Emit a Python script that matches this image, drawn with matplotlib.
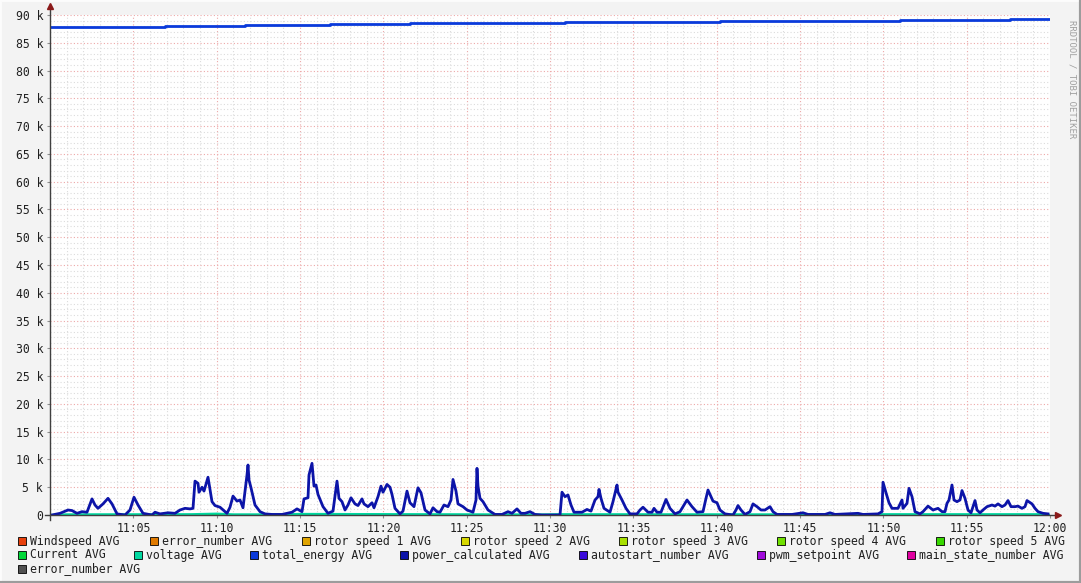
import matplotlib
matplotlib.use("Agg")
import matplotlib.pyplot as plt
from matplotlib.patches import Rectangle
from matplotlib.lines import Line2D

# minutes after 11:00 and power_calculated AVG (k)
power_t = [0.0, 0.12, 0.6, 1.08, 1.32, 1.62, 1.92, 2.22, 2.52, 2.7, 2.88, 3.18, 3.48, 3.72, 4.02,
           4.5, 4.8, 5.04, 5.28, 5.58, 6.12, 6.3, 6.6, 7.08, 7.5, 7.8, 8.1, 8.4, 8.58, 8.7,
           8.88, 8.94, 9.12, 9.24, 9.48, 9.72, 9.9, 10.2, 10.62, 10.8, 10.98, 11.22, 11.4, 11.58,
           11.82, 11.88, 11.94, 12.06, 12.3, 12.6, 12.9, 13.32, 13.92, 14.52, 14.82, 15.12, 15.24,
           15.48, 15.54, 15.72, 15.84, 15.96, 16.08, 16.38, 16.68, 16.98, 17.22, 17.34, 17.52,
           17.7, 17.88, 18.06, 18.3, 18.48, 18.72, 18.84, 19.08, 19.32, 19.44, 19.68, 19.86,
           19.98, 20.22, 20.4, 20.52, 20.7, 21.0, 21.18, 21.42, 21.6, 21.84, 22.08, 22.26, 22.5,
           22.8, 22.98, 23.22, 23.4, 23.64, 23.88, 24.06, 24.18, 24.36, 24.48, 24.78, 25.02,
           25.38, 25.56, 25.62, 25.68, 25.8, 25.98, 26.28, 26.7, 27.12, 27.48, 27.72, 28.02,
           28.26, 28.5, 28.8, 29.1, 29.52, 30.6, 30.72, 30.9, 31.08, 31.26, 31.44, 31.92, 32.22,
           32.46, 32.7, 32.88, 32.94, 33.06, 33.24, 33.6, 33.78, 34.02, 34.08, 34.32, 34.56,
           34.8, 35.22, 35.4, 35.58, 35.88, 36.12, 36.24, 36.42, 36.66, 36.96, 37.2, 37.5, 37.8,
           38.22, 38.52, 38.82, 39.18, 39.36, 39.48, 39.6, 39.78, 40.02, 40.2, 40.5, 40.98,
           41.16, 41.28, 41.46, 41.7, 42.0, 42.18, 42.42, 42.66, 42.9, 43.2, 43.38, 43.62,
           44.52, 45.18, 45.48, 46.5, 46.8, 47.1, 48.48, 48.78, 49.68, 49.92, 49.98, 50.16,
           50.34, 50.52, 50.88, 51.12, 51.18, 51.42, 51.54, 51.72, 51.9, 52.2, 52.38, 52.68,
           52.98, 53.28, 53.52, 53.7, 53.82, 53.94, 54.12, 54.24, 54.42, 54.6, 54.72, 54.9,
           55.08, 55.26, 55.38, 55.5, 55.62, 55.8, 55.98, 56.22, 56.52, 56.7, 56.88, 57.12,
           57.3, 57.48, 57.66, 57.9, 58.08, 58.32, 58.5, 58.62, 58.92, 59.1, 59.28, 59.58, 59.88]
power_k = [0.0, 0.0, 0.3, 0.9, 0.8, 0.3, 0.6, 0.5, 2.9, 1.8, 1.2, 2.0, 3.0, 2.0, 0.2,
           0.0, 0.9, 3.2, 1.8, 0.3, 0.0, 0.5, 0.2, 0.4, 0.3, 0.9, 1.2, 1.1, 1.2, 6.1,
           5.7, 4.1, 5.0, 4.3, 6.8, 2.4, 1.7, 1.4, 0.3, 1.4, 3.4, 2.5, 2.7, 1.3,
           7.2, 9.0, 6.3, 4.9, 1.8, 0.6, 0.2, 0.1, 0.1, 0.5, 1.1, 0.6, 2.9,
           3.1, 7.2, 9.3, 5.2, 5.4, 3.7, 1.5, 0.3, 0.7, 6.1, 3.0, 2.4,
           0.9, 1.8, 3.1, 2.0, 1.7, 2.9, 2.0, 1.5, 2.2, 1.3, 3.3, 5.2,
           4.1, 5.5, 5.0, 3.7, 1.2, 0.2, 0.7, 4.3, 2.2, 1.5, 4.9, 4.0, 0.9,
           0.2, 1.3, 0.6, 0.5, 1.8, 1.5, 2.7, 6.4, 4.3, 2.0, 1.5, 0.9,
           0.5, 2.7, 8.4, 5.2, 3.0, 2.4, 0.9, 0.1, 0.1, 0.6, 0.3, 1.1,
           0.3, 0.3, 0.6, 0.1, 0.0, 0.0, 4.1, 3.3, 3.6, 1.8, 0.5, 0.5, 1.0,
           0.7, 2.7, 3.3, 4.6, 3.0, 1.2, 0.5, 2.4, 5.4, 4.1, 2.7, 1.2,
           0.2, 0.2, 0.9, 1.4, 0.5, 0.5, 1.2, 0.5, 0.5, 2.8, 1.2, 0.2, 0.6,
           2.7, 1.5, 0.5, 0.6, 3.0, 4.5, 3.7, 2.5, 2.2, 0.9, 0.2, 0.0,
           0.9, 1.7, 0.9, 0.1, 0.6, 2.0, 1.5, 0.9, 0.9, 1.5, 0.6, 0.1,
           0.1, 0.4, 0.1, 0.1, 0.4, 0.1, 0.3, 0.1, 0.2, 0.6, 5.9, 4.0,
           2.2, 1.2, 1.2, 2.7, 1.2, 2.1, 4.8, 3.3, 0.6, 0.2, 0.6, 1.6,
           0.9, 1.2, 0.6, 0.6, 2.1, 2.7, 5.4, 2.7, 2.4, 2.7, 4.4, 3.0,
           0.9, 0.4, 1.5, 2.6, 0.9, 0.4, 0.9, 1.5, 1.8, 1.6, 2.0, 1.5,
           1.8, 2.6, 1.5, 1.5, 1.6, 1.2, 1.5, 2.6, 2.0, 1.2, 0.6, 0.3, 0.2]

# total_energy AVG steps (k)
energy_t = [0.0, 6.9, 11.7, 16.8, 21.6, 30.9, 40.2, 51.0, 57.6, 60.0]
energy_k = [87.8, 88.0, 88.2, 88.4, 88.6, 88.7, 88.9, 89.1, 89.3, 89.3]

# voltage AVG (k), small values near zero
volt_t = [0.0, 1.0, 8.5, 10.0, 11.0, 14.0, 15.0, 29.5, 30.6, 43.5, 49.8, 59.5, 60.0]
volt_k = [0.0, 0.12, 0.15, 0.25, 0.12, 0.12, 0.2, 0.1, 0.15, 0.12, 0.15, 0.15, 0.0]

legend_rows = [
    [("Windspeed AVG", "#E8400C"), ("error_number AVG", "#E07A00"), ("rotor speed 1 AVG", "#E0A400"),
     ("rotor speed 2 AVG", "#D8D800"), ("rotor speed 3 AVG", "#A8E000"), ("rotor speed 4 AVG", "#70E000"),
     ("rotor speed 5 AVG", "#38D800")],
    [("Current AVG", "#00D838"), ("voltage AVG", "#00D8A0"), ("total_energy AVG", "#0A3ADB"),
     ("power_calculated AVG", "#0C14A8"), ("autostart_number AVG", "#3A0ADB"), ("pwm_setpoint AVG", "#A00ADB"),
     ("main_state_number AVG", "#E000A0")],
    [("error_number AVG", "#505050")],
]
legend_x = [[18, 150, 302, 461, 619, 777, 936], [18, 134, 250, 400, 579, 757, 907], [18]]

W, H = 1081, 583
fig = plt.figure(figsize=(W / 100, H / 100), dpi=100, facecolor="#F3F3F3")
ax = fig.add_axes([50 / W, 68 / H, 1000 / W, 500 / H])
ax.set_facecolor("white")
ax.set_xlim(0, 60)
ax.set_ylim(0, 90)

mono = "DejaVu Sans Mono"
# grid
for m in range(1, 60):
    major = m % 5 == 0
    ax.axvline(m, color="#EDA8A8" if major else "#DCDCDC", lw=0.8, ls=(0, (1, 2)), zorder=0)
for v in range(1, 91):
    major = v % 5 == 0
    ax.axhline(v, color="#EDA8A8" if major else "#DCDCDC", lw=0.8, ls=(0, (1, 2)), zorder=0)

ax.plot([0, 60], [0, 0], color="#00D838", lw=1.5, zorder=2)
ax.plot(volt_t, volt_k, color="#00D8A0", lw=1.5, zorder=2)
ax.step(energy_t, energy_k, where="post", color="#0A3ADB", lw=2, zorder=3)
ax.plot(power_t, power_k, color="#0C14A8", lw=2, zorder=4)

for s in ax.spines.values():
    s.set_visible(False)
ax.set_xticks(range(5, 61, 5))
ax.set_xticklabels(["11:%02d" % m if m < 60 else "12:00" for m in range(5, 61, 5)],
                   family=mono, fontsize=8.3)
ax.set_yticks(range(0, 91, 5))
ax.set_yticklabels(["0"] + ["%d k" % v for v in range(5, 91, 5)], family=mono, fontsize=8.3)
ax.tick_params(length=2, color="#909090", pad=3, labelcolor="#202020")

# axes lines with arrows
ax.add_line(Line2D([-0.3, 60.35], [0, 0], color="#404040", lw=1, clip_on=False, zorder=5))
ax.add_line(Line2D([0, 0], [-0.9, 91], color="#404040", lw=1, clip_on=False, zorder=5))
ax.plot([60.5], [0], marker=">", color="#8B1A1A", ms=4, clip_on=False, zorder=6)
ax.plot([0], [91.6], marker="^", color="#8B1A1A", ms=4, clip_on=False, zorder=6)

fig.text(1072 / W, 1 - 20 / H, "RRDTOOL / TOBI OETIKER", rotation=270, ha="center", va="top",
         family=mono, fontsize=6.5, color="#A0A0A0")

# legend
for row, (items, xs) in enumerate(zip(legend_rows, legend_x)):
    y = 541 + row * 14
    for (label, color), x in zip(items, xs):
        fig.patches.append(Rectangle((x / W, 1 - (y + 4) / H), 8 / W, 8 / H, transform=fig.transFigure,
                                     facecolor=color, edgecolor="black", lw=0.6))
        fig.text((x + 12) / W, 1 - y / H, label, ha="left", va="center", family=mono,
                 fontsize=8.3, color="#202020")

# canvas frame: light top/left, dark bottom/right
fig.add_artist(Line2D([0, 0, 1], [0, 1, 1], transform=fig.transFigure, color="#FCFCFC", lw=2))
fig.add_artist(Line2D([0, 1, 1], [0, 0, 1], transform=fig.transFigure, color="#9C9C9C", lw=3))

fig.savefig("out.png", dpi=100, facecolor=fig.get_facecolor())
